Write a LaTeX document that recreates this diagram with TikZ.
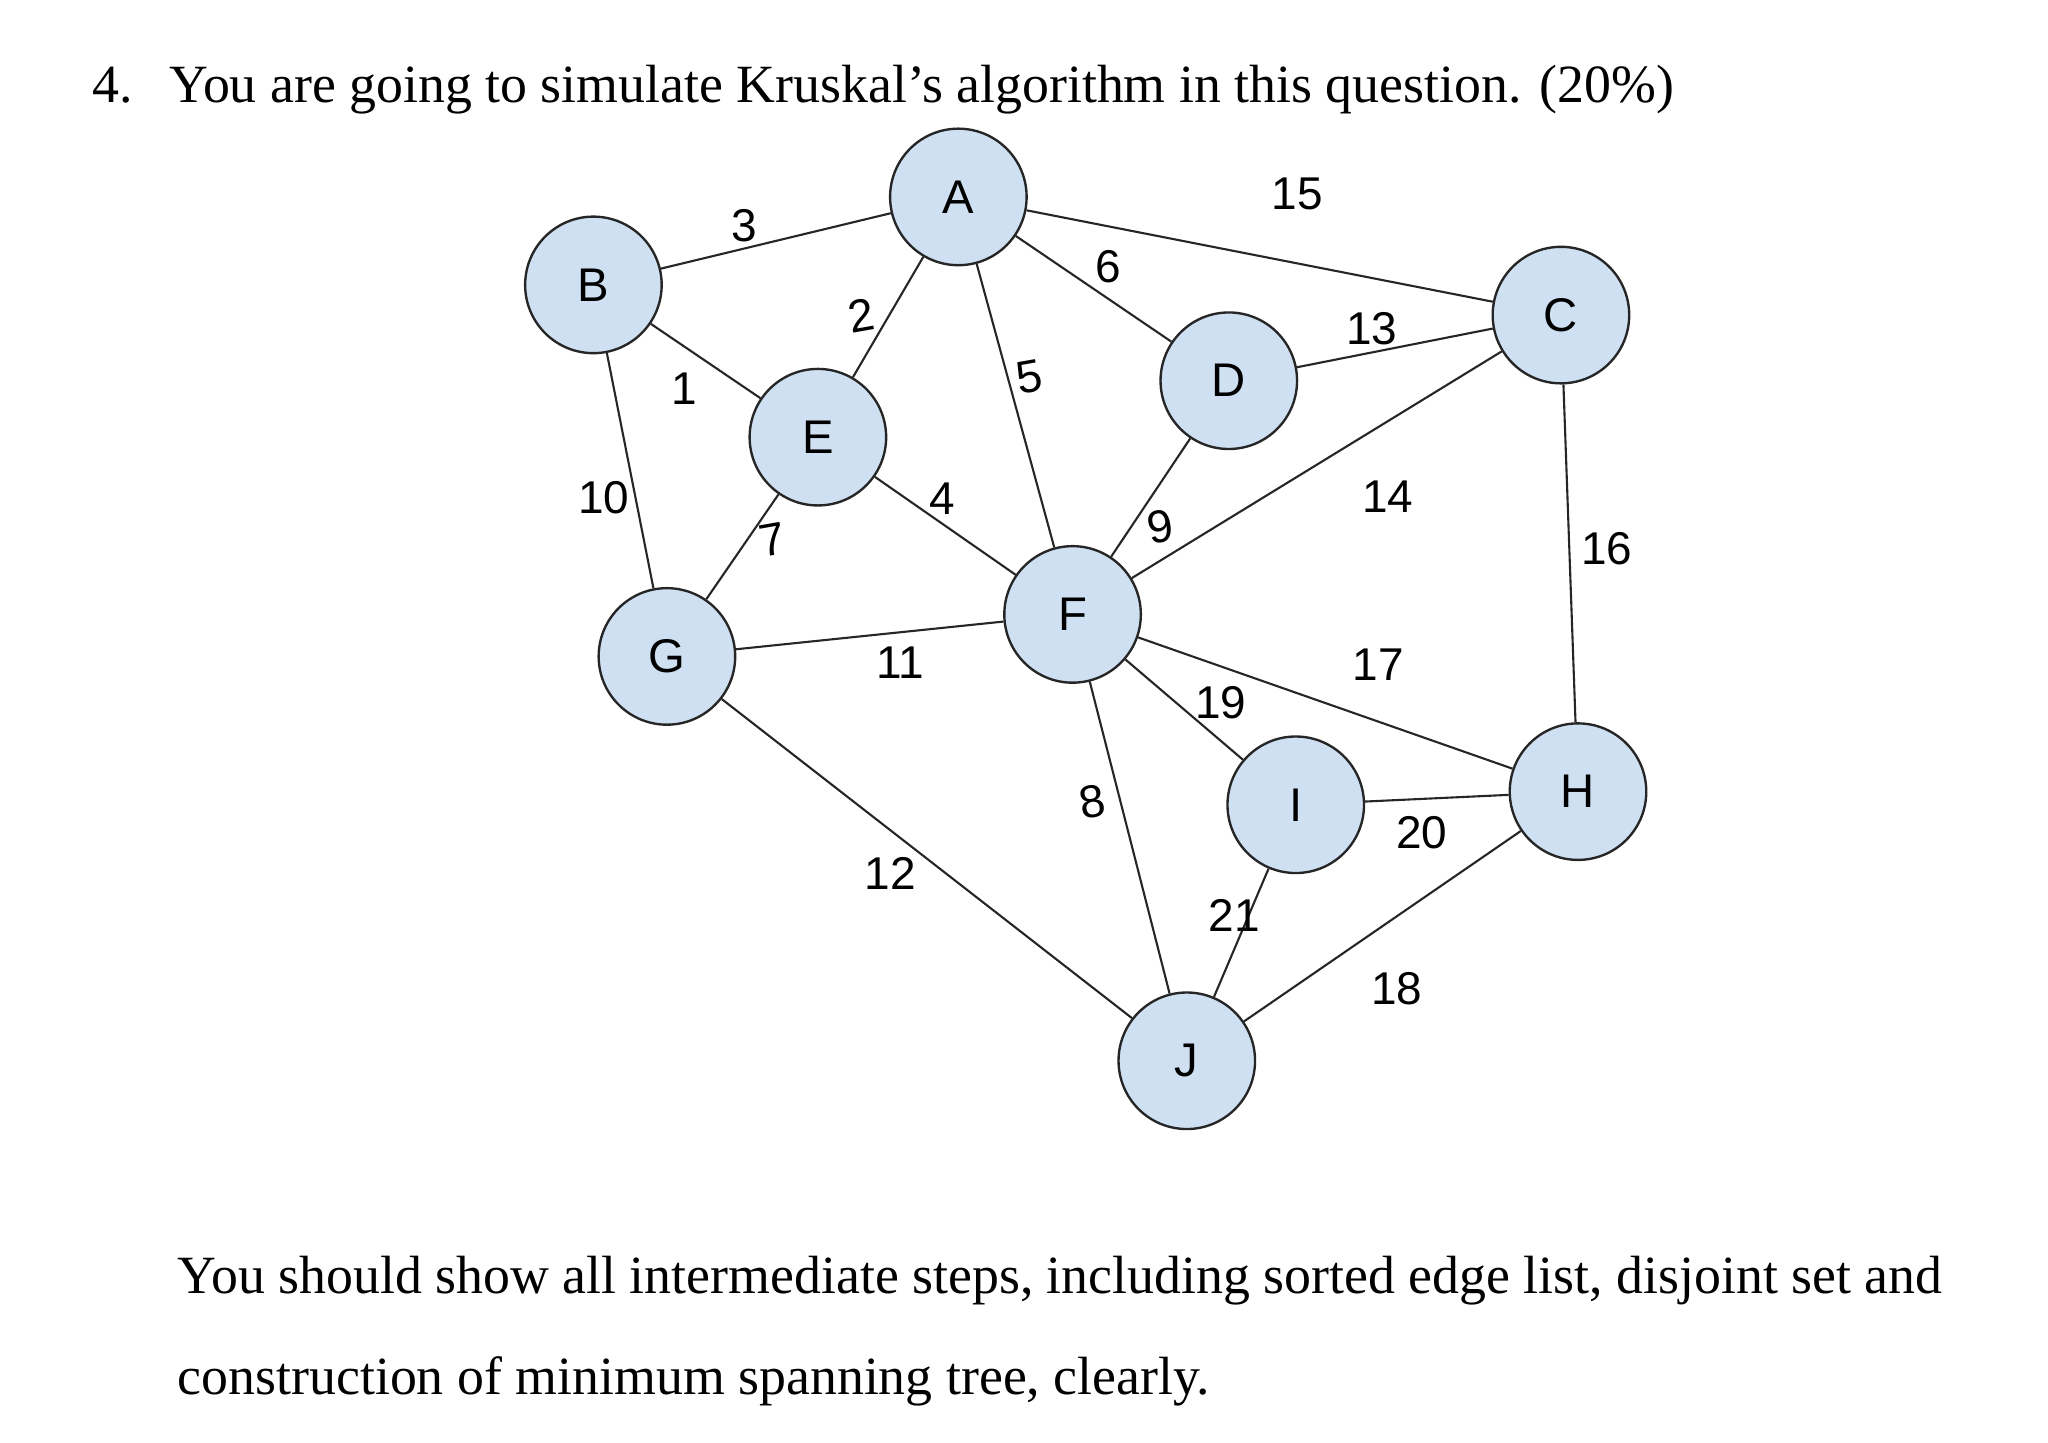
\documentclass[tikz,border=0pt]{standalone}
\usepackage{fontspec}
\setmainfont{Liberation Serif}
\newfontfamily\arial{Liberation Sans}
\definecolor{nodeblue}{RGB}{207,224,243}
\begin{document}
\begin{tikzpicture}[x=0.5pt,y=-0.5pt,
  vert/.style={circle,draw=black!85,line width=0.9pt,fill=nodeblue,minimum size=52pt,inner sep=0pt,font=\arial\fontsize{18}{20}\selectfont},
  edge/.style={draw=black!85,line width=0.8pt},
  wt/.style={font=\arial\fontsize{17.5}{20}\selectfont,inner sep=0pt},
  txt/.style={anchor=base west,inner sep=0pt,font=\fontsize{20.5}{24}\selectfont}]
\fill[white] (0,0) rectangle (1560,1099);
\useasboundingbox (0,0) rectangle (1560,1099);
\node[txt] (title) at (70,78) {4.\hspace{14pt}You are going to simulate Kruskal’s algorithm in this question. (20\%)};
\node[vert] (A) at (730,150) {A};
\node[vert] (B) at (452,217) {B};
\node[vert] (C) at (1189,240) {C};
\node[vert] (D) at (936,290) {D};
\node[vert] (E) at (623,333) {E};
\node[vert] (F) at (817,468) {F};
\node[vert] (G) at (508,500) {G};
\node[vert] (H) at (1202,603) {H};
\node[vert] (I) at (987,613) {I};
\node[vert] (J) at (904,808) {J};
\draw[edge] (B) -- (A);
\draw[edge] (B) -- (E);
\draw[edge] (B) -- (G);
\draw[edge] (E) -- (A);
\draw[edge] (E) -- (G);
\draw[edge] (E) -- (F);
\draw[edge] (A) -- (F);
\draw[edge] (A) -- (D);
\draw[edge] (A) -- (C);
\draw[edge] (D) -- (C);
\draw[edge] (D) -- (F);
\draw[edge] (F) -- (C);
\draw[edge] (F) -- (H);
\draw[edge] (F) -- (I);
\draw[edge] (F) -- (J);
\draw[edge] (G) -- (F);
\draw[edge] (G) -- (J);
\draw[edge] (C) -- (H);
\draw[edge] (I) -- (H);
\draw[edge] (I) -- (J);
\draw[edge] (J) -- (H);
\node[wt] (w3) at (567,172) {3};
\node[wt] (w1) at (521,296) {1};
\node[wt,rotate=10] (w2) at (656,240) {2};
\node[wt] (w10) at (460,379) {10};
\node[wt,rotate=10] (w7) at (588,411) {7};
\node[wt] (w4) at (718,380) {4};
\node[wt,rotate=10] (w5) at (784,287) {5};
\node[wt] (w6) at (844,203) {6};
\node[wt] (w15) at (988,148) {15};
\node[wt] (w13) at (1045,250) {13};
\node[wt,rotate=10] (w9) at (884,401) {9};
\node[wt] (w14) at (1057,378) {14};
\node[wt] (w16) at (1224,418) {16};
\node[wt] (w11) at (686,505) {11};
\node[wt] (w17) at (1050,506) {17};
\node[wt] (w19) at (930,535) {19};
\node[wt,rotate=10] (w8) at (832,611) {8};
\node[wt] (w20) at (1083,634) {20};
\node[wt] (w12) at (678,665) {12};
\node[wt] (w21) at (940,697) {21};
\node[wt] (w18) at (1064,753) {18};
\node[txt] (l1) at (135,985) {You should show all intermediate steps, including sorted edge list, disjoint set and};
\node[txt] (l2) at (135,1062) {construction of minimum spanning tree, clearly.};
\end{tikzpicture}
\end{document}
